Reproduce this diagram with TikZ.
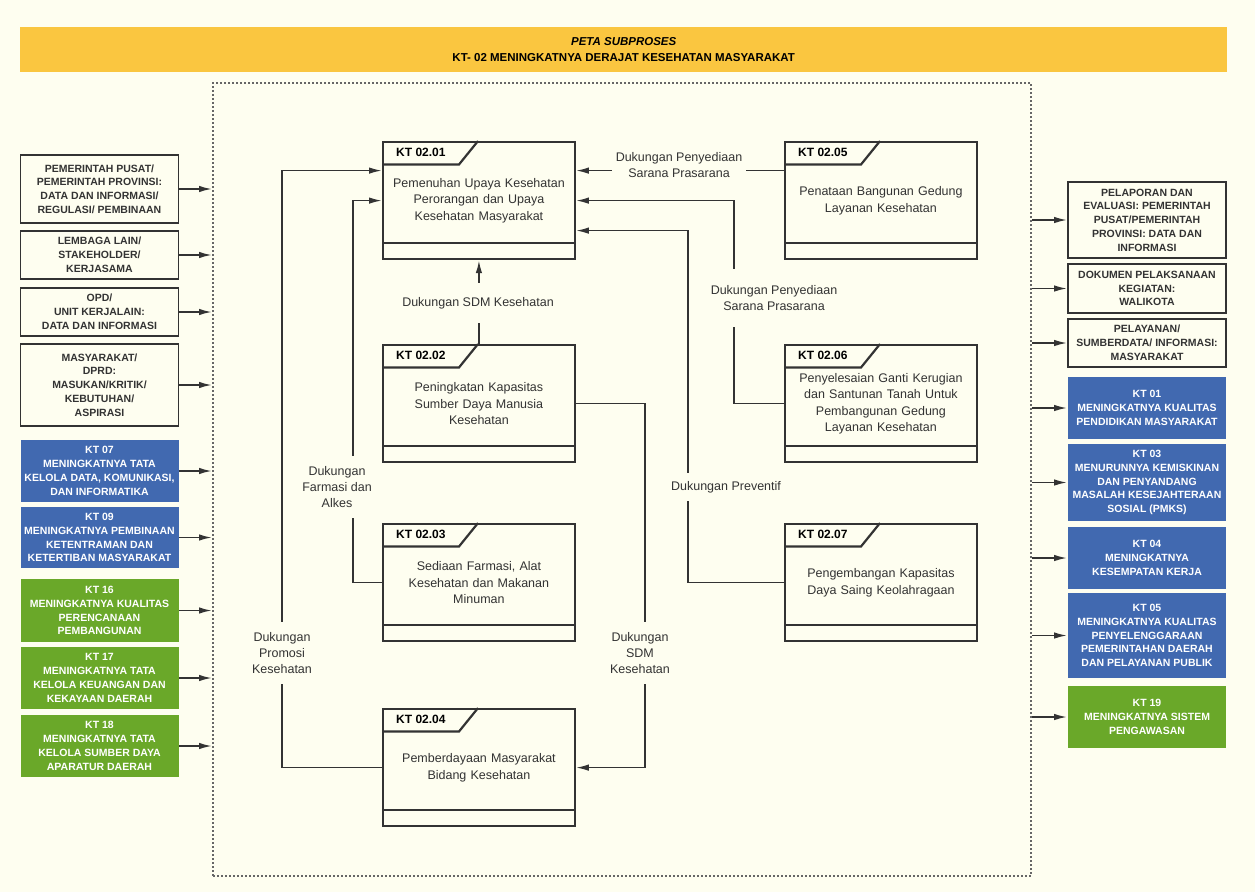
\documentclass[tikz,border=0pt]{standalone}
\usepackage{fontspec}
\setmainfont{Liberation Sans}
\usetikzlibrary{arrows.meta,positioning}

\definecolor{bgcream}{HTML}{FEFEF0}
\definecolor{bandgold}{HTML}{FAC640}
\definecolor{kpblue}{HTML}{4169B0}
\definecolor{kpgreen}{HTML}{6AA829}
\definecolor{inkgray}{HTML}{333333}

\begin{document}
\begin{tikzpicture}[x=1pt, y=-1pt,
  sidebox/.style={draw=inkgray, line width=1.8pt, fill=bgcream, text=inkgray, minimum width=158pt,
    inner sep=2pt, align=center, font=\fontsize{10.5}{13.8}\selectfont\bfseries},
  bluebox/.style={sidebox, draw=none, fill=kpblue, text=white},
  greenbox/.style={sidebox, draw=none, fill=kpgreen, text=white},
  procbox/.style={draw=inkgray, line width=2.2pt, minimum width=191pt, minimum height=117pt,
    text width=185pt, align=center, anchor=north west, text=inkgray, font=\fontsize{12.5}{16.5}\selectfont},
  tablbl/.style={anchor=west, inner sep=0pt, text=black, font=\fontsize{12}{14}\selectfont\bfseries},
  flowlbl/.style={fill=bgcream, align=center, text=inkgray, inner xsep=4pt, inner ysep=10pt,
    font=\fontsize{12.5}{16}\selectfont},
  flow/.style={draw=inkgray, line width=1.7pt},
  arr/.style={flow, -{Latex[length=13pt,width=6.5pt]}}
]
  \useasboundingbox (0,0) rectangle (1255,892);
  \fill[bgcream] (0,0) rectangle (1255,892);

  % Title band
  \node[fill=bandgold, minimum width=1207pt, minimum height=45pt, anchor=north west, align=center,
    font=\fontsize{11.5}{16}\selectfont\bfseries] (band) at (20,27)
    {\textit{PETA SUBPROSES}\\KT- 02 MENINGKATNYA DERAJAT KESEHATAN MASYARAKAT};

  % Dotted frame of the subprocess map
  \node[draw=inkgray!75, dotted, line width=2pt, minimum width=818pt, minimum height=793pt,
    anchor=north west, inner sep=0pt] (frame) at (212,82) {};

  % Inputs on the left
  \foreach \nm/\yc/\h/\txt in {
      in1/189/68/{PEMERINTAH PUSAT/\\PEMERINTAH PROVINSI:\\DATA DAN INFORMASI/\\REGULASI/ PEMBINAAN},
      in2/255/48/{LEMBAGA LAIN/\\STAKEHOLDER/\\KERJASAMA},
      in3/312/48/{OPD/\\UNIT KERJALAIN:\\DATA DAN INFORMASI},
      in4/385/82/{MASYARAKAT/\\DPRD:\\MASUKAN/KRITIK/\\KEBUTUHAN/\\ASPIRASI}} {
    \node[sidebox, minimum height=\h pt] (\nm) at (99.5,\yc) {\txt};
    \draw[arr] (\nm.east) -- (\nm.east -| frame.west);
  }
  \foreach \nm/\yc/\h/\txt in {
      kt07/471/62/{KT 07\\MENINGKATNYA TATA\\KELOLA DATA, KOMUNIKASI,\\DAN INFORMATIKA},
      kt09/537.5/61/{KT 09\\MENINGKATNYA PEMBINAAN\\KETENTRAMAN DAN\\KETERTIBAN MASYARAKAT}} {
    \node[bluebox, minimum height=\h pt] (\nm) at (99.5,\yc) {\txt};
    \draw[arr] (\nm.east) -- (\nm.east -| frame.west);
  }
  \foreach \nm/\yc/\h/\txt in {
      kt16/610.5/63/{KT 16\\MENINGKATNYA KUALITAS\\PERENCANAAN\\PEMBANGUNAN},
      kt17/678/62/{KT 17\\MENINGKATNYA TATA\\KELOLA KEUANGAN DAN\\KEKAYAAN DAERAH},
      kt18/746/62/{KT 18\\MENINGKATNYA TATA\\KELOLA SUMBER DAYA\\APARATUR DAERAH}} {
    \node[greenbox, minimum height=\h pt] (\nm) at (99.5,\yc) {\txt};
    \draw[arr] (\nm.east) -- (\nm.east -| frame.west);
  }

  % Outputs on the right
  \foreach \nm/\yc/\h/\txt in {
      out1/220/76/{PELAPORAN DAN\\EVALUASI: PEMERINTAH\\PUSAT/PEMERINTAH\\PROVINSI: DATA DAN\\INFORMASI},
      out2/288.5/49/{DOKUMEN PELAKSANAAN\\KEGIATAN:\\WALIKOTA},
      out3/343/48/{PELAYANAN/\\SUMBERDATA/ INFORMASI:\\MASYARAKAT}} {
    \node[sidebox, minimum height=\h pt] (\nm) at (1147,\yc) {\txt};
    \draw[arr] (\nm.west -| frame.east) -- (\nm.west);
  }
  \foreach \nm/\yc/\h/\txt in {
      kt01/408/62/{KT 01\\MENINGKATNYA KUALITAS\\PENDIDIKAN MASYARAKAT},
      kt03/482.5/77/{KT 03\\MENURUNNYA KEMISKINAN\\DAN PENYANDANG\\MASALAH KESEJAHTERAAN\\SOSIAL (PMKS)},
      kt04/558/62/{KT 04\\MENINGKATNYA\\KESEMPATAN KERJA},
      kt05/635.5/85/{KT 05\\MENINGKATNYA KUALITAS\\PENYELENGGARAAN\\PEMERINTAHAN DAERAH\\DAN PELAYANAN PUBLIK}} {
    \node[bluebox, minimum height=\h pt] (\nm) at (1147,\yc) {\txt};
    \draw[arr] (\nm.west -| frame.east) -- (\nm.west);
  }
  \node[greenbox, minimum height=62pt] (kt19) at (1147,717) {KT 19\\MENINGKATNYA SISTEM\\PENGAWASAN};
  \draw[arr] (kt19.west -| frame.east) -- (kt19.west);

  % Subprocess boxes
  \foreach \n/\x/\y/\txt in {
      01/382/141/{Pemenuhan Upaya Kesehatan\\Perorangan dan Upaya\\Kesehatan Masyarakat},
      02/382/344/{Peningkatan Kapasitas\\Sumber Daya Manusia\\Kesehatan},
      03/382/523/{Sediaan Farmasi, Alat\\Kesehatan dan Makanan\\Minuman},
      04/382/708/{Pemberdayaan Masyarakat\\Bidang Kesehatan},
      05/784/141/{Penataan Bangunan Gedung\\Layanan Kesehatan},
      06/784/344/{Penyelesaian Ganti Kerugian\\dan Santunan Tanah Untuk\\Pembangunan Gedung\\Layanan Kesehatan},
      07/784/523/{Pengembangan Kapasitas\\Daya Saing Keolahragaan}} {
    \node[procbox] (k\n) at (\x,\y) {\txt};
    \draw[draw=inkgray, line width=2.2pt] ([yshift=-23.5pt]k\n.north west) -- ++(77,0)
      -- ([xshift=96pt]k\n.north west);
    \draw[draw=inkgray, line width=2.2pt] ([yshift=17pt]k\n.south west) -- ([yshift=17pt]k\n.south east);
    \node[tablbl] (t\n) at ([xshift=14pt,yshift=-11.5pt]k\n.north west) {KT 02.\n};
  }

  % Support flows
  \draw[arr] ([yshift=30pt]k05.west) -- ([yshift=30pt]k01.east);
  \draw[arr] (k06.west) -- ++(-50,0) |- (k01.east);
  \draw[arr] (k07.west) -- ++(-96,0) |- ([yshift=-30pt]k01.east);
  \draw[arr] (k02.east) -- ++(69,0) |- (k04.east);
  \draw[arr] (k04.west) -- ++(-100,0) |- ([yshift=30pt]k01.west);
  \draw[arr] (k03.west) -- ++(-29,0) |- (k01.west);
  \draw[arr] (k02.north) -- (k01.south);

  % Flow labels
  \node[flowlbl, inner ysep=4pt] (lsarana1) at (679,165) {Dukungan Penyediaan\\Sarana Prasarana};
  \node[flowlbl, inner ysep=16pt] (lsarana2) at (774,298) {Dukungan Penyediaan\\Sarana Prasarana};
  \node[flowlbl, inner ysep=8pt] (lpreventif) at (726,487) {Dukungan Preventif};
  \node[flowlbl] (lsdm2) at (640,653) {Dukungan\\SDM\\Kesehatan};
  \node[flowlbl] (lpromosi) at (282,653) {Dukungan\\Promosi\\Kesehatan};
  \node[flowlbl] (lfarmasi) at (337,487) {Dukungan\\Farmasi dan\\Alkes};
  \node[flowlbl, inner ysep=14pt] (lsdm1) at (478,303) {Dukungan SDM Kesehatan};
\end{tikzpicture}
\end{document}
